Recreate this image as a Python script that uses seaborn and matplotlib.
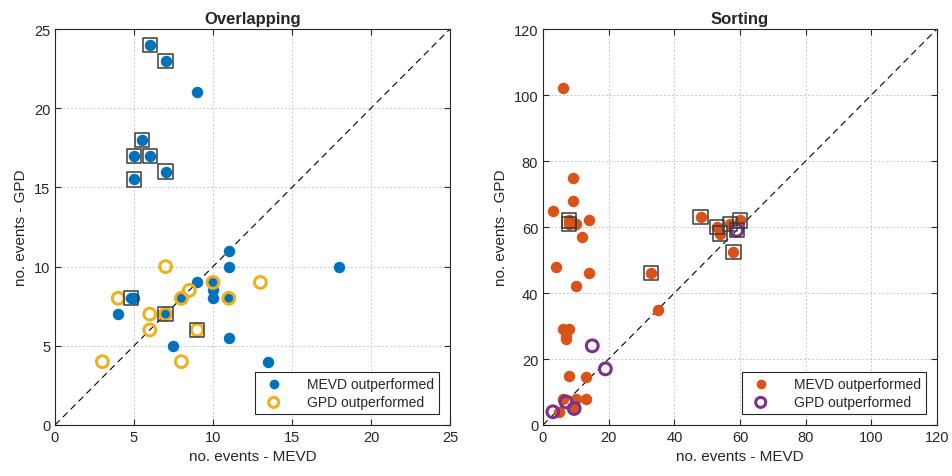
import matplotlib
matplotlib.use("Agg")
import matplotlib.pyplot as plt
import seaborn as sns
import pandas as pd

# ---------------- data ----------------
# Overlapping panel
ov_mevd_x = [6, 7, 9, 5.5, 5, 6, 7, 5, 11, 11, 18, 9, 10, 10, 10, 11, 4.8, 5, 8, 4, 7, 11, 7.5, 13.5]
ov_mevd_y = [24, 23, 21, 18, 17, 17, 16, 15.5, 11, 10, 10, 9, 9, 8.5, 8, 8, 8, 8, 8, 7, 7, 5.5, 5, 4]
ov_gpd_x = [7, 10, 13, 4, 8, 8.5, 11, 6, 7, 6, 9, 3, 8]
ov_gpd_y = [10, 9, 9, 8, 8, 8.5, 8, 7, 7, 6, 6, 4, 4]
ov_box_x = [6, 7, 5.5, 5, 6, 7, 5, 4.8, 7, 9]
ov_box_y = [24, 23, 18, 17, 17, 16, 15.5, 8, 7, 6]

# Sorting panel
so_mevd_x = [6, 9, 9, 3, 8, 8, 10, 14, 12, 4, 48, 53, 54, 57, 60, 58, 33, 14, 10, 35,
             6, 8, 7, 7, 8, 13, 6, 10, 13, 9, 5]
so_mevd_y = [102, 75, 68, 65, 62, 61, 61, 62, 57, 48, 63, 60, 58, 61, 62, 52.5, 46, 46, 42, 35,
             29, 29, 27, 26, 15, 14.5, 8, 8, 8, 5, 4]
so_gpd_x = [59, 15, 19, 7, 9.5, 3]
so_gpd_y = [59, 24, 17, 7, 5, 4]
so_box_x = [8, 8, 48, 53, 54, 57, 60, 59, 58, 33]
so_box_y = [62, 61, 63, 60, 58, 61, 62, 59, 52.5, 46]

titles = ["Overlapping", "Sorting"]
xlabel = "no. events - MEVD"
ylabel = "no. events - GPD"
legend_labels = ["MEVD outperformed", "GPD outperformed"]

# ---------------- style ----------------
sns.set_theme(style="white")
plt.rcParams["font.family"] = ["Liberation Sans", "DejaVu Sans"]
plt.rcParams["axes.linewidth"] = 0.8

fig = plt.figure(figsize=(9.53, 4.77), dpi=100)
ax1 = fig.add_axes([55 / 953, 1 - 426 / 477, 395 / 953, 396 / 477])
ax2 = fig.add_axes([543 / 953, 1 - 426 / 477, 394 / 953, 396 / 477])

panels = [
    (ax1, ov_mevd_x, ov_mevd_y, ov_gpd_x, ov_gpd_y, ov_box_x, ov_box_y,
     "#0072BD", "#EDB120", 25, list(range(0, 26, 5))),
    (ax2, so_mevd_x, so_mevd_y, so_gpd_x, so_gpd_y, so_box_x, so_box_y,
     "#D95319", "#7E2F8E", 120, list(range(0, 121, 20))),
]

for i, (ax, mx, my, gx, gy, bx, by, c1, c2, lim, ticks) in enumerate(panels):
    ax.set_xlim(0, lim)
    ax.set_ylim(0, lim)
    ax.set_xticks(ticks)
    ax.set_yticks(ticks)
    ax.grid(True, color="#c8c8c8", linestyle=(0, (2, 2)), linewidth=0.7)
    ax.set_axisbelow(True)
    ax.plot([0, lim], [0, lim], color="black", linestyle=(0, (6, 4)), linewidth=0.8, zorder=1)

    df_m = pd.DataFrame({"x": mx, "y": my})
    df_g = pd.DataFrame({"x": gx, "y": gy})
    df_b = pd.DataFrame({"x": bx, "y": by})

    sns.scatterplot(data=df_m, x="x", y="y", ax=ax, color=c1, s=68, linewidth=0,
                    label=legend_labels[0], zorder=3)
    sns.scatterplot(data=df_g, x="x", y="y", ax=ax, facecolors="none", edgecolor=c2,
                    s=72, linewidth=2.2, label=legend_labels[1], zorder=4)
    sns.scatterplot(data=df_b, x="x", y="y", ax=ax, marker="s", facecolors="none",
                    edgecolor="#3a3a3a", s=105, linewidth=1.1, zorder=5, legend=False)

    ax.set_title(titles[i], fontsize=12, fontweight="bold", pad=4)
    ax.set_xlabel(xlabel, fontsize=11, labelpad=4)
    ax.set_ylabel(ylabel, fontsize=11, labelpad=4)
    ax.tick_params(axis="both", direction="in", length=4, width=0.8, labelsize=10.5,
                   colors="#262626", top=True, right=True, bottom=True, left=True)
    for sp in ax.spines.values():
        sp.set_color("#262626")
        sp.set_linewidth(0.8)

    leg = ax.legend(loc="lower right", fontsize=10, frameon=True, fancybox=False,
                    edgecolor="#262626", framealpha=1, borderpad=0.35,
                    labelspacing=0.3, handletextpad=1.4, borderaxespad=0.8,
                    markerscale=0.85)
    leg.get_frame().set_linewidth(0.8)
    leg.set_zorder(2.5)

fig.savefig("out.png", dpi=100)
